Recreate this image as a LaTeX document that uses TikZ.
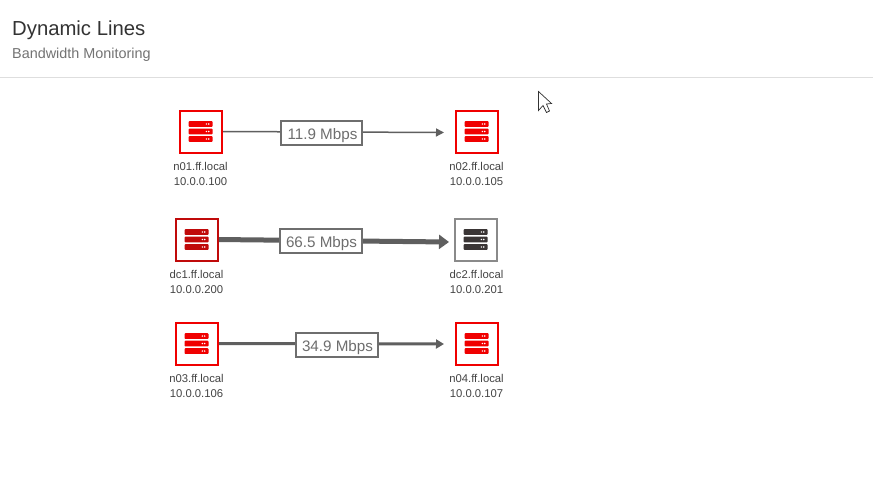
\documentclass[tikz,border=0pt]{standalone}
\usepackage{fontspec}
\setmainfont{Liberation Sans}
\usetikzlibrary{arrows.meta,backgrounds,calc}
\definecolor{srvred}{HTML}{F00000}
\definecolor{srvdark}{HTML}{C00A0A}
\definecolor{srvgrey}{HTML}{3A3535}
\definecolor{boxgrey}{HTML}{8A8A8A}
\definecolor{linegrey}{HTML}{5F5F5F}
\definecolor{labgrey}{HTML}{6E6E6E}
\definecolor{nametext}{HTML}{444444}
\tikzset{
 x=1pt,y=-1pt,
 srvbox/.style={draw=#1,line width=2pt,fill=white,minimum size=42pt,inner sep=0pt,outer sep=0pt},
 srvcap/.style={text=nametext,font=\fontsize{11.3}{15}\selectfont,align=center,anchor=north,inner sep=0pt},
 ratebox/.style={draw=labgrey,line width=2pt,fill=white,text=labgrey,font=\fontsize{15.2}{16}\selectfont,minimum height=24pt,text height=13pt,text depth=0pt,inner sep=0pt,outer sep=0pt},
 flow/.style={draw=linegrey,line width=#1},
}
\newcommand{\srvicon}[2]{%
 \foreach \dy in {-7.5,0,7.5}{%
  \fill[#2,rounded corners=0.8pt] ($(#1)+(-12,\dy-2.8)$) rectangle ($(#1)+(12,\dy+2.8)$);
  \fill[white] ($(#1)+(5.8,\dy)$) circle (0.8pt) ($(#1)+(8.2,\dy)$) circle (0.8pt);
 }}
\begin{document}
\begin{tikzpicture}
\useasboundingbox (0,0) rectangle (873,495);
\begin{scope}[on background layer]
\fill[white] (0,0) rectangle (873,495);
\end{scope}
\draw[color=black!13,line width=1pt] (0,77.5) -- (873,77.5);
\node[anchor=base west,inner sep=0pt,text=black!80,font=\fontsize{20.3}{22}\selectfont] (title) at (12,35.5) {Dynamic Lines};
\node[anchor=base west,inner sep=0pt,text=black!55,font=\fontsize{14.4}{16}\selectfont] (sub) at (12,58.5) {Bandwidth Monitoring};

\node[srvbox=srvred] (n01) at (200.5,131.5) {};
\node[srvbox=srvred] (n02) at (476.5,131.5) {};
\node[srvbox=srvdark] (dc1) at (196.5,239.5) {};
\node[srvbox=boxgrey] (dc2) at (475.5,239.5) {};
\node[srvbox=srvred] (n03) at (196.5,343.5) {};
\node[srvbox=srvred] (n04) at (476.5,343.5) {};
\srvicon{n01}{srvred}\srvicon{n02}{srvred}\srvicon{dc1}{srvdark}
\srvicon{dc2}{srvgrey}\srvicon{n03}{srvred}\srvicon{n04}{srvred}

\node[srvcap] (t1) at (200.5,162) {n01.ff.local\\10.0.0.100};
\node[srvcap] (t2) at (476.5,162) {n02.ff.local\\10.0.0.105};
\node[srvcap] (t3) at (196.5,270) {dc1.ff.local\\10.0.0.200};
\node[srvcap] (t4) at (476.5,270) {dc2.ff.local\\10.0.0.201};
\node[srvcap] (t5) at (196.5,374) {n03.ff.local\\10.0.0.106};
\node[srvcap] (t6) at (476.5,374) {n04.ff.local\\10.0.0.107};

\node[ratebox,minimum width=81pt] (r1) at (321.5,132.5) {\hspace*{2pt}11.9 Mbps};
\node[ratebox,minimum width=82pt] (r2) at (320.5,241) {\hspace*{2pt}66.5 Mbps};
\node[ratebox,minimum width=82pt] (r3) at (336.5,344.5) {\hspace*{2pt}34.9 Mbps};

\coordinate (e1) at (444,132.5);
\coordinate (e2) at (449,242);
\coordinate (e3) at (444,344);

\begin{scope}[on background layer]
\draw[flow=1.5pt,-{Triangle[length=8pt,width=8pt]}] (n01.east) -- (e1);
\draw[flow=5pt,-{Triangle[length=10pt,width=14pt]}] (dc1.east) -- (e2);
\draw[flow=3pt,-{Triangle[length=8pt,width=9pt]}] (n03.east) -- (e3);
\end{scope}

\draw[draw=black!80,fill=white,line width=0.7pt,line join=miter]
 (538.5,91.5) -- (538.5,110.5) -- (543,105.5) -- (546.5,112.5) -- (549.5,111) -- (546.5,104) -- (551.5,103.5) -- cycle;
\end{tikzpicture}
\end{document}
